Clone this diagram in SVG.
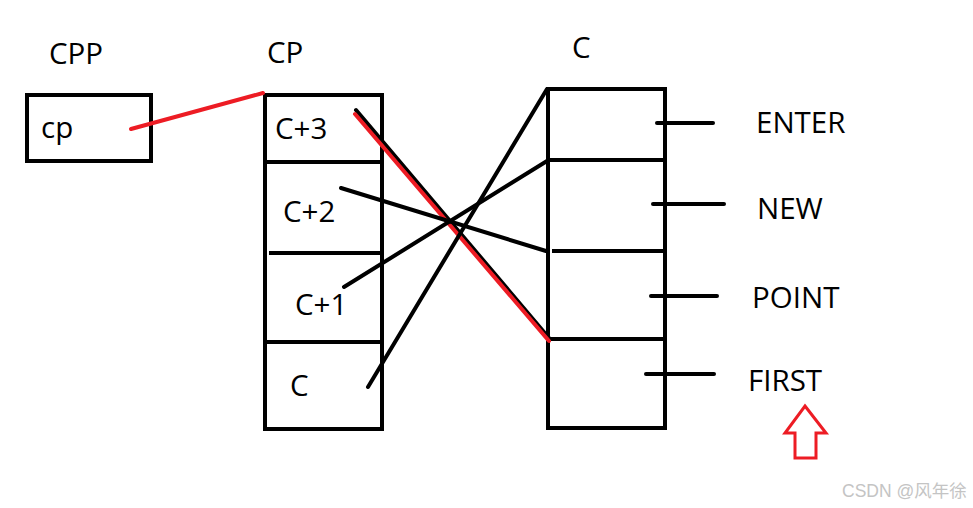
<svg xmlns="http://www.w3.org/2000/svg" width="973" height="508" viewBox="0 0 973 508">
<style>
.box{fill:none;stroke:#000;stroke-width:4}
.div{stroke:#000;stroke-width:4;fill:none}
.lbl{font-family:"Open Sans","Liberation Sans",sans-serif;font-size:29.5px;fill:#000}
.blk{stroke:#000;stroke-width:4;stroke-linecap:round;fill:none}
.red{stroke:#ed1c24;stroke-width:4;stroke-linecap:round;fill:none}
.wm{font-family:"Liberation Sans","Noto Sans CJK SC",sans-serif;font-size:17.5px;fill:#c4c4c4}
</style>
<rect width="973" height="508" fill="#fff"/>
<g id="cpp">
<text class="lbl" x="49" y="64">CPP</text>
<rect class="box" x="27" y="95" width="124" height="66"/>
<text class="lbl" x="41" y="138">cp</text>
</g>
<g id="cp">
<text class="lbl" x="267" y="63">CP</text>
<rect class="box" x="265" y="95" width="117" height="334"/>
<line class="div" x1="265" y1="162" x2="382" y2="162"/>
<line class="div" x1="269" y1="253" x2="382" y2="253"/>
<line class="div" x1="265" y1="342" x2="382" y2="342"/>
<text class="lbl" x="275" y="139">C+3</text>
<text class="lbl" x="283" y="222">C+2</text>
<text class="lbl" x="295" y="315">C+1</text>
<text class="lbl" x="290" y="396">C</text>
</g>
<g id="c">
<text class="lbl" x="572" y="58">C</text>
<rect class="box" x="548" y="89" width="117" height="339"/>
<line class="div" x1="548" y1="160" x2="665" y2="160"/>
<line class="div" x1="552" y1="251" x2="665" y2="251"/>
<line class="div" x1="548" y1="339" x2="665" y2="339"/>
</g>
<g id="fields">
<line class="blk" x1="657" y1="123" x2="713" y2="123"/>
<line class="blk" x1="653" y1="204" x2="724" y2="204"/>
<line class="blk" x1="651" y1="296" x2="717" y2="296"/>
<line class="blk" x1="646" y1="374" x2="714" y2="374"/>
<text class="lbl" x="756" y="133">ENTER</text>
<text class="lbl" x="757" y="219">NEW</text>
<text class="lbl" x="752" y="308">POINT</text>
<text class="lbl" x="748" y="391">FIRST</text>
</g>
<g id="connectors">
<line class="red" x1="131" y1="129" x2="263" y2="93"/>
<line class="blk" x1="356" y1="110" x2="549" y2="338"/>
<line class="red" x1="355" y1="114" x2="549" y2="341"/>
<line class="blk" x1="341" y1="188" x2="546" y2="251"/>
<line class="blk" x1="344" y1="287" x2="547" y2="161"/>
<line class="blk" x1="368" y1="387" x2="547" y2="89"/>
</g>
<g id="arrow">
<polygon points="805,406 826,433 816,433 816,458 795,458 795,433 785,433" fill="none" stroke="#ed1c24" stroke-width="3" stroke-linejoin="miter"/>
</g>
<text class="wm" x="842" y="497">CSDN @风年徐</text>
</svg>
